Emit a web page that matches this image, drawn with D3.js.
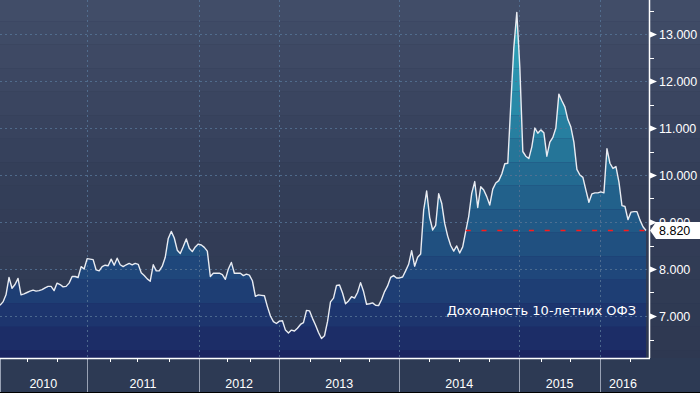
<!DOCTYPE html>
<html>
<head>
<meta charset="utf-8">
<script src="https://cdn.jsdelivr.net/npm/d3@7"></script>
<style>
  html, body { margin: 0; padding: 0; background: #2d3a54; }
  svg { display: block; }
</style>
</head>
<body>
<div id="chart"></div>
<script>
// 10y OFZ yield, one value per observation (weekly-ish, gaps compressed like the source)
const yields = [
    7.23, 7.30, 7.45, 7.82, 7.59, 7.67, 7.80, 7.45, 7.47, 7.50,
    7.53, 7.55, 7.53, 7.54, 7.56, 7.60, 7.63, 7.63, 7.54, 7.70,
    7.67, 7.62, 7.63, 7.70, 7.84, 7.84, 7.82, 8.05, 8.00, 8.22,
    8.21, 8.20, 7.98, 7.96, 8.05, 8.08, 8.07, 8.21, 8.08, 8.23,
    8.09, 8.05, 8.09, 8.12, 8.09, 8.12, 8.10, 7.92, 7.86, 7.79,
    7.74, 8.09, 7.96, 7.96, 8.06, 8.25, 8.65, 8.80, 8.66, 8.40,
    8.33, 8.48, 8.64, 8.44, 8.37, 8.47, 8.53, 8.51, 8.46, 8.38,
    7.84, 7.91, 7.91, 7.91, 7.88, 7.78, 8.00, 8.14, 7.91, 7.91,
    7.91, 7.86, 7.89, 7.87, 7.75, 7.42, 7.45, 7.44, 7.43, 7.20,
    7.00, 6.88, 6.84, 6.89, 6.90, 6.70, 6.64, 6.70, 6.68, 6.74,
    6.82, 6.86, 7.12, 7.11, 6.95, 6.81, 6.65, 6.52, 6.58, 6.88,
    7.30, 7.38, 7.65, 7.66, 7.49, 7.26, 7.32, 7.41, 7.38, 7.50,
    7.71, 7.52, 7.25, 7.26, 7.28, 7.23, 7.22, 7.35, 7.52, 7.64,
    7.82, 7.86, 7.81, 7.81, 7.83, 7.96, 8.10, 8.39, 8.06, 8.25,
    8.32, 9.25, 9.66, 9.10, 8.83, 8.93, 9.60, 9.40, 8.97, 8.70,
    8.50, 8.38, 8.49, 8.34, 8.47, 8.80, 9.12, 9.61, 9.86, 9.31,
    9.75, 9.68, 9.54, 9.36, 9.70, 9.83, 9.88, 10.02, 10.24, 10.25,
    11.50, 12.70, 13.46, 12.30, 10.50, 10.40, 10.35, 10.60, 11.00, 10.89,
    10.96, 10.90, 10.40, 10.70, 10.80, 11.00, 11.72, 11.58, 11.45, 11.18,
    11.02, 10.70, 10.12, 10.00, 9.95, 9.68, 9.42, 9.60, 9.62, 9.62,
    9.64, 9.62, 10.56, 10.25, 10.14, 10.18, 9.85, 9.35, 9.33, 9.05,
    9.21, 9.22, 9.22, 9.04, 8.90, 8.82
];

const yearLabels = ['2010', '2011', '2012', '2013', '2014', '2015', '2016'];
// observation index where each year begins
const yearStarts = [0, 28.85, 66.3, 92.9, 132.9, 172.8, 199.7];
// minor (quarter) ticks, observation index
const minorTicks = [8.9, 18.9, 36.6, 45.6, 56.2, 75.4, 83.2, 103.2, 113.1, 122.9,
    142.9, 152.9, 162.8, 179.9, 189.7, 209.6];

const yTicks = [7, 8, 9, 10, 11, 12, 13];
const lastValue = 8.82;
const refLineFrom = 155;
const seriesLabel = 'Доходность 10-летних ОФЗ';

const width = 700;
const height = 393;
const plotRight = 649;
const plotBottom = 358;
const font = '"Liberation Sans", Arial, sans-serif';

const svg = d3.select('#chart')
    .append('svg')
    .attr('width', width)
    .attr('height', height);

const x = d3.scaleLinear()
    .domain([0, yields.length - 1])
    .range([0, 646]);

const y = d3.scaleLinear()
    .domain([7, 13])
    .range([316, 34]);

// stepped background bands
const bandEdges = d3.range(350.2, -24, -23.5);
const bgColor = d3.piecewise(d3.interpolateRgb, ['#2e3851', '#343f59', '#424e69']);
const areaColor = d3.piecewise(d3.interpolateRgb, ['#1b2561', '#1f477b', '#23688f', '#2a90ac', '#30aabb']);

svg.append('rect')
    .attr('width', width)
    .attr('height', plotBottom)
    .attr('fill', bgColor(0));

bandEdges.forEach(edge => {
    const top = Math.max(edge - 23.5, 0);
    svg.append('rect')
        .attr('x', 0)
        .attr('y', top)
        .attr('width', width)
        .attr('height', edge - top)
        .attr('fill', bgColor(1 - (edge - 12) / plotBottom));
});

// area clipped bands
const area = d3.area()
    .x((d, i) => x(i))
    .y0(plotBottom)
    .y1(d => y(d));

svg.append('clipPath')
    .attr('id', 'area-clip')
    .append('path')
    .attr('d', area(yields));

const areaG = svg.append('g').attr('clip-path', 'url(#area-clip)');
areaG.append('rect')
    .attr('width', plotRight)
    .attr('height', plotBottom)
    .attr('fill', areaColor(0));

bandEdges.forEach(edge => {
    const top = Math.max(edge - 23.5, 0);
    areaG.append('rect')
        .attr('x', 0)
        .attr('y', top)
        .attr('width', plotRight)
        .attr('height', edge - top)
        .attr('fill', areaColor(Math.max(0, 1 - (edge - 12) / plotBottom)));
});

// grid
const grid = svg.append('g')
    .attr('stroke', '#557395')
    .attr('stroke-width', 1)
    .attr('stroke-dasharray', '2,3')
    .attr('opacity', 0.85);

grid.selectAll('.hgrid')
    .data(yTicks)
    .join('line')
    .attr('x1', 0)
    .attr('x2', plotRight)
    .attr('y1', d => Math.round(y(d)) + 0.5)
    .attr('y2', d => Math.round(y(d)) + 0.5);

grid.selectAll('.vgrid')
    .data(yearStarts.slice(1))
    .join('line')
    .attr('x1', d => Math.round(x(d)) + 0.5)
    .attr('x2', d => Math.round(x(d)) + 0.5)
    .attr('y1', 0)
    .attr('y2', plotBottom);

// series line
svg.append('path')
    .datum(yields)
    .attr('fill', 'none')
    .attr('stroke', '#e9ecf2')
    .attr('stroke-width', 1.4)
    .attr('stroke-linejoin', 'round')
    .attr('d', d3.line().x((d, i) => x(i)).y(d => y(d)));

// last value reference
svg.append('line')
    .attr('x1', x(refLineFrom))
    .attr('x2', plotRight - 1)
    .attr('y1', y(lastValue))
    .attr('y2', y(lastValue))
    .attr('stroke', '#ff1a1a')
    .attr('stroke-width', 1.5)
    .attr('stroke-dasharray', '5,10.8');

svg.append('text')
    .attr('x', 636)
    .attr('y', 315)
    .attr('text-anchor', 'end')
    .attr('font-family', '"DejaVu Sans", sans-serif')
    .attr('font-size', '13px')
    .attr('fill', '#ffffff')
    .text(seriesLabel);

// bottom axis band
svg.append('rect')
    .attr('y', plotBottom)
    .attr('width', width)
    .attr('height', height - plotBottom)
    .attr('fill', '#2d3a54');

svg.append('rect')
    .attr('y', height - 1)
    .attr('width', width)
    .attr('height', 1)
    .attr('fill', '#000');

const xAxis = svg.append('g');

xAxis.selectAll('.sep')
    .data(yearStarts)
    .join('line')
    .attr('x1', d => Math.round(x(d)) + 0.5)
    .attr('x2', d => Math.round(x(d)) + 0.5)
    .attr('y1', plotBottom)
    .attr('y2', height - 1)
    .attr('stroke', '#98a1b4')
    .attr('stroke-width', 1);

xAxis.selectAll('.minor')
    .data(minorTicks)
    .join('line')
    .attr('x1', d => Math.round(x(d)) + 0.5)
    .attr('x2', d => Math.round(x(d)) + 0.5)
    .attr('y1', plotBottom)
    .attr('y2', plotBottom + 4)
    .attr('stroke', '#ffffff');

const yearEnds = yearStarts.slice(1).concat([yields.length - 1]);
xAxis.selectAll('.year')
    .data(yearLabels)
    .join('text')
    .attr('x', (d, i) => (x(yearStarts[i]) + x(yearEnds[i])) / 2)
    .attr('y', 388)
    .attr('text-anchor', 'middle')
    .attr('font-family', font)
    .attr('font-size', '12.5px')
    .attr('fill', '#ffffff')
    .text(d => d);

svg.append('line')
    .attr('x1', 0)
    .attr('x2', plotRight + 1)
    .attr('y1', plotBottom + 0.5)
    .attr('y2', plotBottom + 0.5)
    .attr('stroke', '#ffffff')
    .attr('stroke-width', 1.5);

// right axis
const yAxis = svg.append('g');

yAxis.append('line')
    .attr('x1', plotRight + 0.5)
    .attr('x2', plotRight + 0.5)
    .attr('y1', 0)
    .attr('y2', plotBottom)
    .attr('stroke', '#ffffff')
    .attr('stroke-width', 1.5);

yAxis.selectAll('.minor')
    .data(yTicks.map(v => v + 0.5).concat([6.5]))
    .join('line')
    .attr('x1', plotRight)
    .attr('x2', plotRight + 5)
    .attr('y1', d => Math.round(y(d)) + 0.5)
    .attr('y2', d => Math.round(y(d)) + 0.5)
    .attr('stroke', '#ffffff');

yAxis.selectAll('.marker')
    .data(yTicks)
    .join('path')
    .attr('d', d => {
        const ty = Math.round(y(d)) + 0.5;
        return `M${plotRight},${ty - 3.5}L${plotRight + 8},${ty}L${plotRight},${ty + 3.5}Z`;
    })
    .attr('fill', '#ffffff');

yAxis.selectAll('.label')
    .data(yTicks)
    .join('text')
    .attr('x', 659)
    .attr('y', d => y(d) + 5)
    .attr('font-family', font)
    .attr('font-size', '12.5px')
    .attr('fill', '#ffffff')
    .text(d => d3.format('.3f')(d));

// last value tag
const tagY = y(lastValue);
svg.append('path')
    .attr('d', `M650,${tagY}L656,${tagY - 8.5}L700,${tagY - 8.5}L700,${tagY + 8.5}L656,${tagY + 8.5}Z`)
    .attr('fill', '#ffffff');

svg.append('text')
    .attr('x', 659)
    .attr('y', tagY + 4.5)
    .attr('font-family', font)
    .attr('font-size', '12.5px')
    .attr('fill', '#000000')
    .text(d3.format('.3f')(lastValue));
</script>
</body>
</html>
